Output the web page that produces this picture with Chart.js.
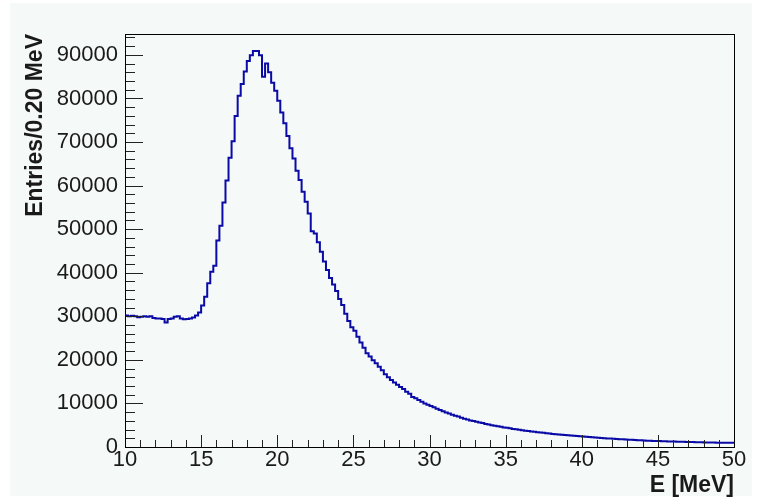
<!DOCTYPE html>
<html>
<head>
<meta charset="utf-8">
<script src="https://cdn.jsdelivr.net/npm/chart.js@4.4.1/dist/chart.umd.min.js"></script>
<style>
  html, body { margin: 0; padding: 0; background: #ffffff; }
  #wrap { width: 760px; height: 499px; }
</style>
</head>
<body>
<div id="wrap"><canvas id="histo" width="760" height="499"></canvas></div>
<script>
// Histogram: E from 10 to 50 MeV, 0.20 MeV bins (200 bins)
const xMin = 10;
const xMax = 50;
const binWidth = 0.2;
const yMax = 94800;

const xTickLabels = [10, 15, 20, 25, 30, 35, 40, 45, 50];
const yTickLabels = [0, 10000, 20000, 30000, 40000, 50000, 60000, 70000, 80000, 90000];

// entries per bin
const counts = [
  // 10.0 - 13.8
  30100, 30200, 30000, 30100, 30000, 29800, 29900, 30000, 29900, 30000,
  29600, 29500, 29500, 29400, 28600, 29400, 29500, 29900, 30000, 29500,
  // 14.0 - 17.8
  29300, 29400, 29500, 29700, 30200, 30900, 32500, 34500, 37600, 40200,
  41600, 47400, 50800, 56100, 61200, 66400, 70200, 76000, 80600, 83300,
  // 18.0 - 21.8
  86200, 88600, 89900, 90900, 90900, 89900, 85000, 88000, 86000, 83600,
  81800, 79500, 76800, 74300, 71400, 68600, 66200, 63400, 61300, 58600,
  // 22.0 - 25.8
  56300, 53600, 49500, 49000, 47000, 44800, 42600, 40600, 38800, 37300,
  35800, 34000, 32600, 30600, 28900, 27500, 26700, 25300, 24000, 22800,
  // 26.0 - 29.8
  21500, 20800, 19900, 19200, 18400, 17600, 16700, 16000, 15400, 14800,
  14300, 13800, 13300, 12700, 12200, 11500, 11200, 10800, 10400, 10000,
  // 30.0 - 33.8
  9700, 9400, 9100, 8800, 8500, 8200, 7900, 7700, 7400, 7200,
  7000, 6700, 6500, 6300, 6100, 5950, 5800, 5650, 5500, 5300,
  // 34.0 - 37.8
  5150, 5000, 4900, 4780, 4650, 4500, 4400, 4280, 4150, 4050,
  3950, 3850, 3750, 3650, 3550, 3480, 3400, 3320, 3250, 3150,
  // 38.0 - 41.8
  3080, 3000, 2950, 2880, 2820, 2750, 2680, 2620, 2560, 2500,
  2450, 2400, 2350, 2300, 2250, 2200, 2120, 2080, 2020, 1970,
  // 42.0 - 45.8
  1930, 1880, 1840, 1800, 1760, 1720, 1680, 1650, 1600, 1570,
  1530, 1500, 1460, 1430, 1400, 1370, 1350, 1330, 1310, 1290,
  // 46.0 - 49.8
  1270, 1250, 1230, 1210, 1190, 1170, 1150, 1130, 1110, 1090,
  1080, 1060, 1040, 1030, 1010, 1000, 990, 970, 960, 950
];

// step points at bin low edges, plus the closing edge at xMax
const points = counts.map((c, i) => ({ x: xMin + i * binWidth, y: c }));
points.push({ x: xMax, y: counts[counts.length - 1] });

// pad background, frame and ROOT-style inward ticks
const rootFrame = {
  id: 'rootFrame',
  beforeDraw(chart) {
    const ctx = chart.ctx;
    ctx.save();
    ctx.fillStyle = '#ffffff';
    ctx.fillRect(0, 0, chart.width, chart.height);
    ctx.fillStyle = '#f5f9f7';
    ctx.fillRect(10, 3, chart.width - 18, chart.height - 6);
    ctx.restore();
  },
  afterDatasetsDraw(chart) {
    const ctx = chart.ctx;
    const a = chart.chartArea;
    const xs = chart.scales.x;
    const ys = chart.scales.y;
    ctx.save();
    ctx.lineWidth = 1;
    ctx.strokeStyle = '#222222';
    ctx.beginPath();
    // x ticks every 1 MeV, major every 5
    for (let v = xMin; v <= xMax; v += 1) {
      const px = Math.round(xs.getPixelForValue(v)) + 0.5;
      const len = (v % 5 === 0) ? 12 : 7;
      ctx.moveTo(px, a.bottom);
      ctx.lineTo(px, a.bottom - len);
    }
    // y ticks every 2000, major every 10000
    for (let v = 0; v <= yMax; v += 2000) {
      const py = Math.round(ys.getPixelForValue(v)) + 0.5;
      const len = (v % 10000 === 0) ? 18 : 10;
      ctx.moveTo(a.left, py);
      ctx.lineTo(a.left + len, py);
    }
    ctx.stroke();
    ctx.strokeStyle = '#000000';
    ctx.strokeRect(Math.round(a.left) + 0.5, Math.round(a.top) + 0.5,
      Math.round(a.right - a.left), Math.round(a.bottom - a.top));
    ctx.restore();
  }
};

new Chart(document.getElementById('histo'), {
  type: 'line',
  data: {
    datasets: [{
      label: 'Entries',
      data: points,
      borderColor: '#0a0aa6',
      borderWidth: 2,
      stepped: 'after',
      pointRadius: 0,
      fill: false,
      tension: 0
    }]
  },
  options: {
    responsive: false,
    animation: false,
    layout: { padding: { top: 34, right: 26, left: 0, bottom: 0 } },
    plugins: {
      legend: { display: false },
      tooltip: { enabled: false }
    },
    scales: {
      x: {
        type: 'linear',
        min: xMin,
        max: xMax,
        grid: { display: false, drawTicks: false },
        border: { display: false },
        afterFit: s => { s.height = 52; },
        afterBuildTicks: s => { s.ticks = xTickLabels.map(v => ({ value: v })); },
        ticks: {
          maxRotation: 0,
          padding: 0,
          color: '#1a1a1a',
          font: { family: 'Liberation Sans', size: 22 }
        },
        title: {
          display: true,
          text: 'E [MeV]',
          align: 'end',
          color: '#1a1a1a',
          padding: { top: 0, bottom: 0 },
          font: { family: 'Liberation Sans', size: 23, weight: 'bold' }
        }
      },
      y: {
        min: 0,
        max: yMax,
        grid: { display: false, drawTicks: false },
        border: { display: false },
        afterFit: s => { s.width = 125; },
        afterBuildTicks: s => { s.ticks = yTickLabels.map(v => ({ value: v })); },
        ticks: {
          padding: 7,
          color: '#1a1a1a',
          font: { family: 'Liberation Sans', size: 22 },
          callback: v => String(v)
        },
        title: {
          display: true,
          text: 'Entries/0.20 MeV',
          align: 'end',
          color: '#1a1a1a',
          padding: { top: 22, bottom: 0 },
          font: { family: 'Liberation Sans', size: 23, weight: 'bold' }
        }
      }
    }
  },
  plugins: [rootFrame]
});
</script>
</body>
</html>
